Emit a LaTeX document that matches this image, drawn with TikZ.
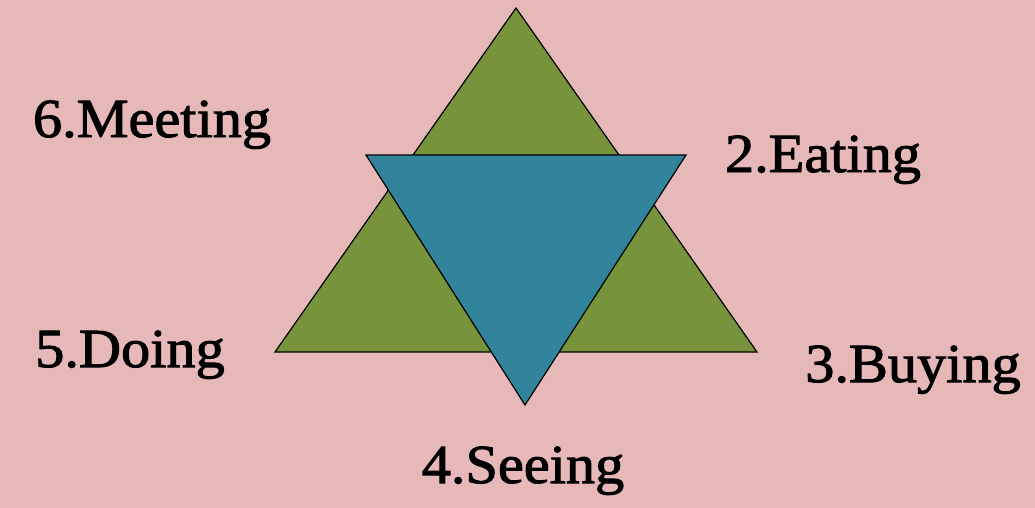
\documentclass[tikz,border=0pt]{standalone}
\usepackage{fontspec}
\setmainfont{Liberation Serif}
\newfontfamily\lblfont[FakeStretch=1.06,FakeBold=1.8]{Liberation Serif}
\usepackage{xcolor}
\definecolor{bgpink}{RGB}{230,184,183}
\definecolor{trigreen}{RGB}{119,147,60}
\definecolor{triblue}{RGB}{49,132,155}
\usetikzlibrary{positioning}

\begin{document}
\begin{tikzpicture}[x=1pt,y=-1pt,
  tri/.style={draw=black,line width=1.2pt,line join=miter},
  lbl/.style={font=\lblfont\fontsize{55}{60}\selectfont,anchor=base,inner sep=0pt}
]
  % background
  \fill[bgpink] (0,0) rectangle (1035,508);
  \useasboundingbox (0,0) rectangle (1035,508);

  % triangles
  \coordinate (gtop) at (516,8);
  \coordinate (gleft) at (275,352);
  \coordinate (gright) at (757,352);
  \coordinate (bleft) at (366,155);
  \coordinate (bright) at (686,155);
  \coordinate (bbot) at (525,405);
  \draw[tri,fill=trigreen] (gtop) -- (gright) -- (gleft) -- cycle;
  \draw[tri,fill=triblue] (bleft) -- (bright) -- (bbot) -- cycle;

  % labels
  \node[lbl] (meeting) at (152,137) {6.Meeting};
  \node[lbl] (eating) at (823,172) {2.Eating};
  \node[lbl] (doing) at (130,367) {5.Doing};
  \node[lbl] (buying) at (913,382) {3.Buying};
  \node[lbl] (seeing) at (523,483) {4.Seeing};
\end{tikzpicture}
\end{document}
